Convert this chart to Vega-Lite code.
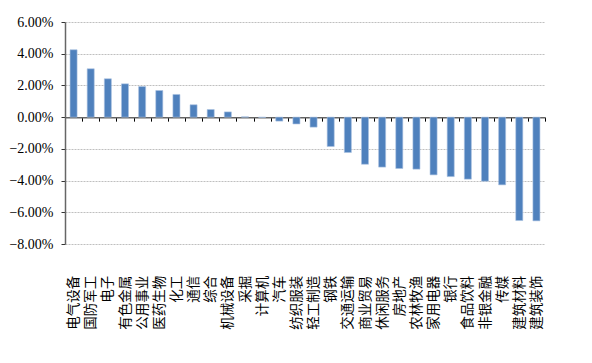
{
  "$schema": "https://vega.github.io/schema/vega-lite/v6.json",
  "autosize": "none",
  "width": 480,
  "height": 222,
  "padding": {"left": 65, "top": 22, "right": 47, "bottom": 119},
  "background": "white",
  "config": {"view": {"stroke": null}},
  "data": {"values": [
    {"industry": "电气设备", "value": 0.0425},
    {"industry": "国防军工", "value": 0.0305},
    {"industry": "电子", "value": 0.0242},
    {"industry": "有色金属", "value": 0.0210},
    {"industry": "公用事业", "value": 0.0193},
    {"industry": "医药生物", "value": 0.0168},
    {"industry": "化工", "value": 0.0143},
    {"industry": "通信", "value": 0.0078},
    {"industry": "综合", "value": 0.0048},
    {"industry": "机械设备", "value": 0.0033},
    {"industry": "采掘", "value": 0.0002},
    {"industry": "计算机", "value": -0.0002},
    {"industry": "汽车", "value": -0.0025},
    {"industry": "纺织服装", "value": -0.0043},
    {"industry": "轻工制造", "value": -0.0063},
    {"industry": "钢铁", "value": -0.0185},
    {"industry": "交通运输", "value": -0.0223},
    {"industry": "商业贸易", "value": -0.0297},
    {"industry": "休闲服务", "value": -0.0315},
    {"industry": "房地产", "value": -0.0324},
    {"industry": "农林牧渔", "value": -0.0328},
    {"industry": "家用电器", "value": -0.0364},
    {"industry": "银行", "value": -0.0375},
    {"industry": "食品饮料", "value": -0.0391},
    {"industry": "非银金融", "value": -0.0404},
    {"industry": "传媒", "value": -0.0427},
    {"industry": "建筑材料", "value": -0.0652},
    {"industry": "建筑装饰", "value": -0.0654}
  ]},
  "mark": {"type": "bar", "color": "#4F81BD", "width": {"band": 0.41}, "stroke": "#A9C1E0", "strokeWidth": 0.6},
  "encoding": {
    "x": {
      "field": "industry", "type": "nominal", "sort": null,
      "scale": {"paddingInner": 0, "paddingOuter": 0},
      "axis": {
        "title": null,
        "offset": -126.86,
        "labelAngle": -90,
        "labelAlign": "right",
        "labelBaseline": "middle",
        "labelPadding": 154,
        "labelFont": "Noto Sans CJK SC",
        "labelFontSize": 13.5,
        "labelColor": "#000000",
        "tickBand": "extent",
        "tickSize": 4,
        "tickColor": "#000000",
        "domainColor": "#666666",
        "domainWidth": 1.5,
        "grid": false
      }
    },
    "y": {
      "field": "value", "type": "quantitative",
      "scale": {"domain": [-0.08, 0.06], "nice": false, "zero": false},
      "axis": {
        "title": null,
        "values": [-0.08, -0.06, -0.04, -0.02, 0, 0.02, 0.04, 0.06],
        "format": ".2%",
        "labelFont": "Liberation Serif",
        "labelFontSize": 14,
        "labelColor": "#000000",
        "labelPadding": 8,
        "tickSize": 4,
        "tickColor": "#333333",
        "domainColor": "#666666",
        "domainWidth": 1.5,
        "grid": true,
        "gridColor": "#bfbfbf",
        "gridDash": [2, 1],
        "gridWidth": 1
      }
    }
  }
}
